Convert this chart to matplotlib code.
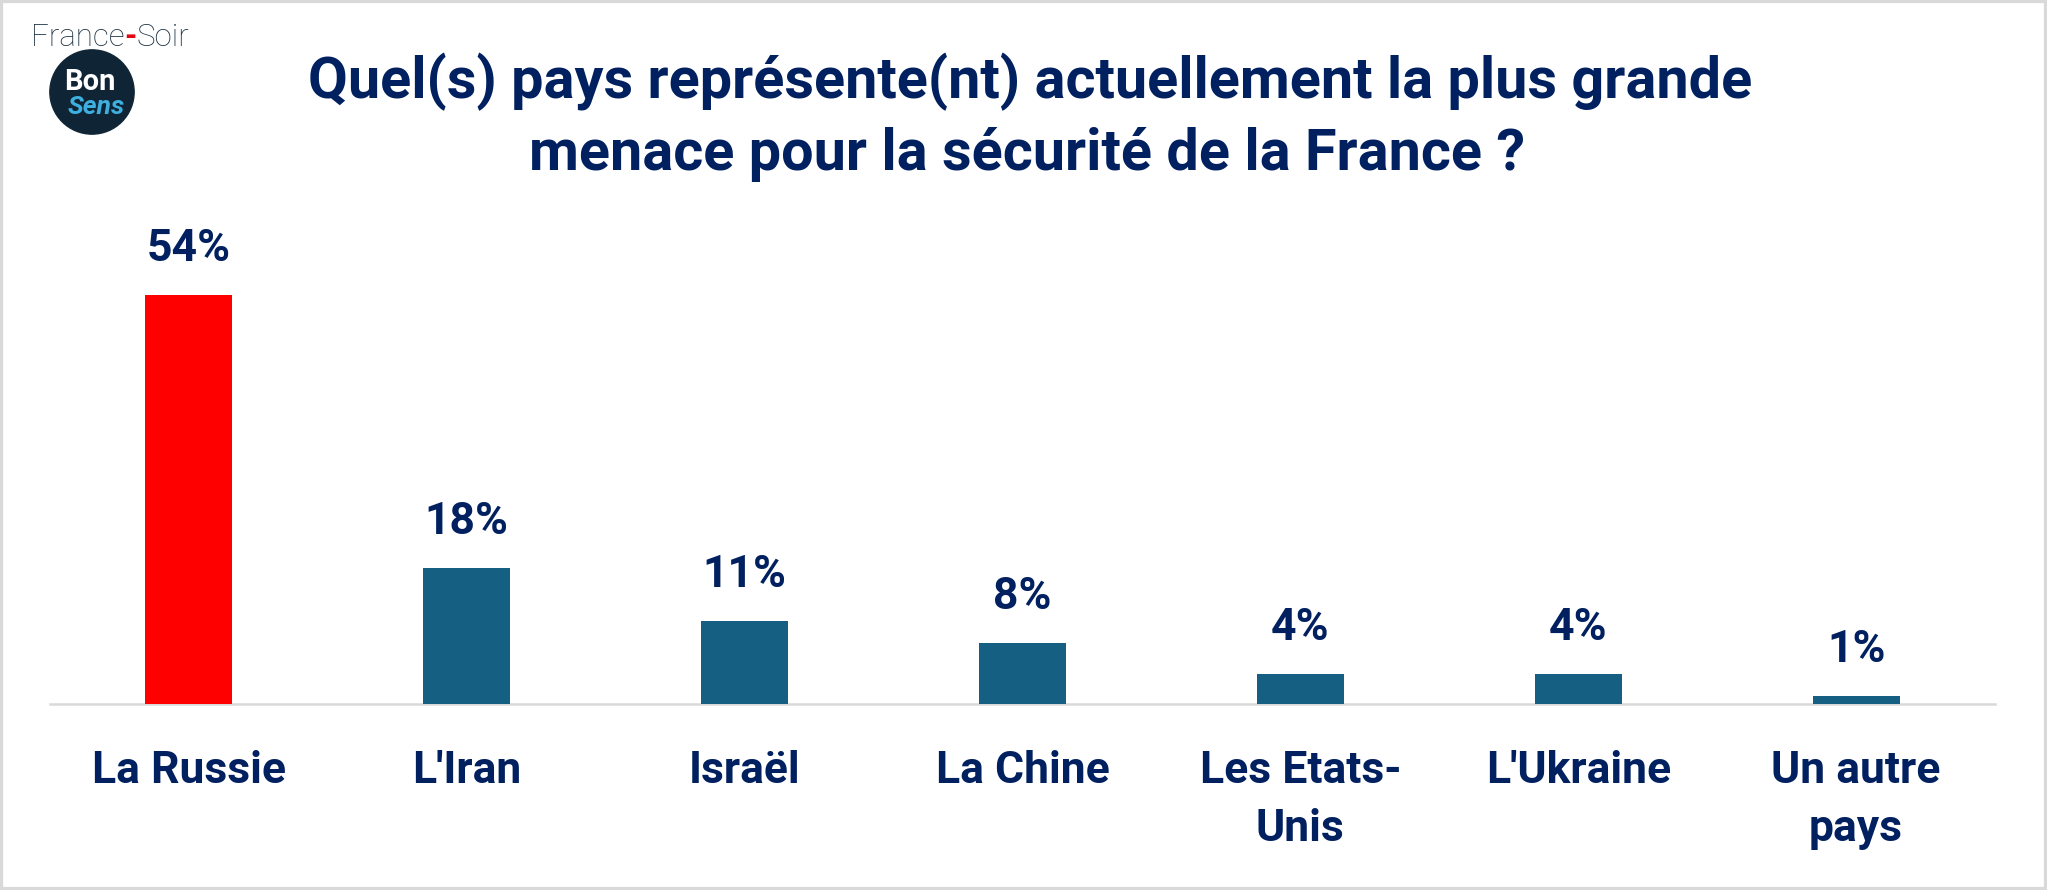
import matplotlib
matplotlib.use("Agg")
import matplotlib.pyplot as plt
from matplotlib.patches import Rectangle, Circle
from matplotlib.text import Annotation

# données du sondage
categories = ["La Russie", "L'Iran", "Israël", "La Chine", "Les Etats-\nUnis", "L'Ukraine", "Un autre\npays"]
valeurs = [54, 18, 11, 8, 4, 4, 1]
couleurs = ["#FF0000", "#156082", "#156082", "#156082", "#156082", "#156082", "#156082"]
titre1 = "Quel(s) pays représente(nt) actuellement la plus grande"
titre2 = "menace pour la sécurité de la France ?"

W, H = 2047, 890
navy = "#002060"
plt.rcParams['font.family'] = ['Roboto', 'DejaVu Sans']

fig = plt.figure(figsize=(W / 100, H / 100), dpi=100)
fig.patch.set_facecolor("white")

ax = fig.add_axes([50 / W, 186 / H, 1945 / W, 454 / H])
x = range(len(categories))
ax.bar(x, valeurs, width=0.313, color=couleurs, zorder=3)
ax.set_xlim(-0.5, 6.5)
ax.set_ylim(0, 60)

for i, v in enumerate(valeurs):
    ax.annotate(f"{v}%", xy=(i, v), xytext=(0, 24.5), textcoords="offset points",
                ha="center", va="baseline", fontsize=32, fontweight="bold", color=navy)

ax.set_xticks(list(x))
ax.set_xticklabels(categories, fontsize=32, fontweight="bold", color=navy, linespacing=1.5)
ax.tick_params(axis="x", length=0, pad=33)
ax.set_yticks([])
for s in ["top", "right", "left"]:
    ax.spines[s].set_visible(False)
ax.spines["bottom"].set_color("#D9D9D9")
ax.spines["bottom"].set_linewidth(1.8)

# titre
fig.text(1030 / W, 1 - 98 / H, titre1, ha="center", va="baseline",
         fontsize=41.5, fontweight="bold", color=navy)
fig.text(1027 / W, 1 - 170 / H, titre2, ha="center", va="baseline",
         fontsize=41.5, fontweight="bold", color=navy)

# logo France-Soir / BonSens
t1 = fig.text(31 / W, 1 - 46 / H, "France", ha="left", va="baseline",
              fontsize=22.5, fontweight="light", color="#1B3142")
a2 = fig.add_artist(Annotation("-", xy=(1, 0), xycoords=t1, va="bottom", ha="left",
                               fontsize=22.5, fontweight="bold", color="#E30613"))
fig.add_artist(Annotation("Soir", xy=(1, 0), xycoords=a2, va="bottom", ha="left",
                          fontsize=22.5, fontweight="light", color="#1B3142"))

lax = fig.add_axes([(92 - 43) / W, 1 - (92 + 43) / H, 86 / W, 86 / H])
lax.set_xlim(0, 1)
lax.set_ylim(0, 1)
lax.axis("off")
lax.add_patch(Circle((0.5, 0.5), 0.49, color="#0F2535"))
lax.text(0.47, 0.62, "Bon", ha="center", va="center", fontsize=21, fontweight="bold", color="white")
lax.text(0.55, 0.33, "Sens", ha="center", va="center", fontsize=19, style="italic",
         fontweight="bold", color="#3DB0E0")

# cadre
fig.add_artist(Rectangle((0, 0), 1, 1, transform=fig.transFigure, fill=False,
                         edgecolor="#D9D9D9", linewidth=4.5))

fig.savefig("out.png", dpi=100)
